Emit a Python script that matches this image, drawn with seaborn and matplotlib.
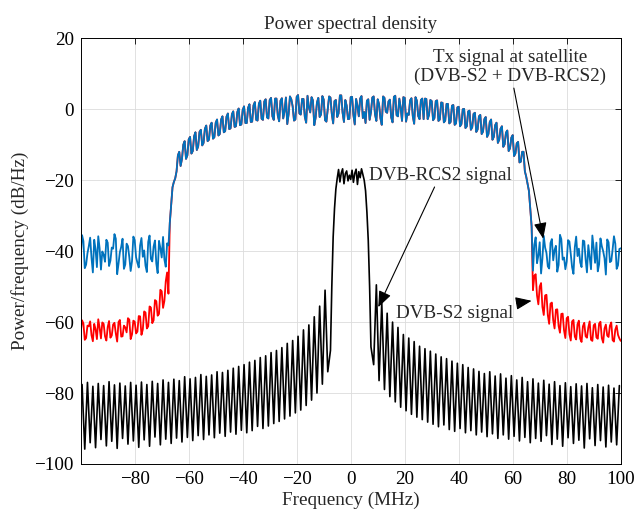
import numpy as np
import pandas as pd
import matplotlib
matplotlib.use("Agg")
import matplotlib.pyplot as plt
import seaborn as sns

# ---------------- data ----------------
freq_mhz = np.arange(-100, 101)          # whole-MHz bins
freq_half_mhz = np.arange(-99.5, 100.0)  # half-MHz bins

# Tx signal at satellite (blue), whole-MHz bins:
# floor left (-100..-68), band (-67..67), floor right (68..100)
tx_floor_left = [
    -41.5, -37.2, -43.8, -38.6, -41.9, -36.8, -44.5, -39.2, -40.1, -43.0, -37.6,
    -42.7, -39.3, -36.5, -43.6, -38.8, -45.0, -37.9, -41.7, -42.8, -36.9, -43.3,
    -38.4, -41.6, -44.1, -37.4, -42.2, -38.7, -43.5, -37.1, -41.8, -42.4, -37.8]
tx_band = [
    -32.0, -22.0, -19.5, -13.0, -16.0, -10.0, -14.0, -8.5, -12.5, -7.6,
    -11.5, -6.4, -10.2, -5.5, -9.0, -4.6, -8.3, -3.8, -7.4, -2.9,
    -6.5, -2.1, -5.6, -1.4, -5.0, -0.8, -4.5, -0.2, -3.9, 0.4,
    -3.6, 1.1, -3.0, 1.6, -2.7, 2.2, -2.3, 2.6, -2.0, 3.0,
    -1.8, 2.4, -2.6, 3.3, -1.4, 2.8, -3.2, 3.5, -1.2, 2.9,
    -2.1, 3.8, -0.9, 2.5, -2.4, 3.2, -1.5, 2.7, -3.5, 3.6,
    -1.3, 2.3, -2.2, 3.9, -1.0, 2.6, -2.8, 3.4, -1.6, 2.9,
    -2.0, 3.7, -0.8, 2.4, -3.0, 3.3, -1.4, 2.8, -2.5, 3.6,
    -0.7, 2.2, -2.3, 3.5, -1.7, 3.0, -3.3, 3.2, -1.2, 2.5,
    -2.0, 3.4, -1.9, 2.6, -2.8, 2.9, -1.6, 2.3, -2.5, 2.5,
    -2.9, 1.8, -3.2, 1.5, -3.6, 1.2, -4.0, 0.7, -4.2, 0.1,
    -4.8, -0.4, -5.1, -1.0, -5.7, -1.6, -6.3, -2.2, -7.0, -2.9,
    -7.8, -3.8, -8.6, -4.8, -9.9, -6.0, -11.0, -7.3, -12.5, -9.2,
    -14.8, -12.0, -19.0, -23.0, -33.0]
tx_floor_right = [
    -38.2, -43.4, -37.5, -42.1, -39.0, -44.3, -37.7, -42.6, -38.5, -43.9, -36.6,
    -41.8, -42.9, -37.3, -44.6, -38.9, -41.4, -43.2, -37.0, -42.3, -38.3, -45.1,
    -39.1, -37.6, -43.7, -38.6, -42.0, -36.7, -43.1, -39.5, -37.9, -44.0, -39.2]

# Tx signal, half-MHz bins: left (-99.5..-67.5), band (-66.5..66.5), right (67.5..99.5)
tx_half_left = [
    -35.5, -44.8, -40.6, -36.2, -46.0, -39.5, -35.8, -45.2, -41.0, -36.8, -44.2,
    -39.0, -35.2, -46.5, -40.3, -36.5, -43.8, -38.6, -45.6, -35.9, -41.7, -44.6,
    -36.3, -39.8, -45.9, -35.6, -42.9, -37.0, -46.2, -39.1, -36.0, -44.4, -38.4]
tx_half_band = [
    -27.0, -20.5, -17.5, -12.0, -14.0, -9.0, -13.0, -7.8, -11.8, -6.5,
    -10.5, -5.8, -9.5, -4.6, -8.6, -3.8, -7.9, -2.9, -7.0, -2.0,
    -6.2, -1.2, -5.4, -0.6, -4.8, 0.2, -4.3, 0.8, -3.9, 1.4,
    -3.5, 2.0, -3.2, 2.4, -3.0, 2.8, -2.6, 3.2, -3.0, 3.0,
    -3.4, 3.1, -0.5, -4.2, 3.6, 0.8, -2.9, 4.0, -1.5,
    2.9, -3.8, 0.6, 3.4, -4.5, 1.9, -2.2, 3.7, -3.1,
    0.2, 3.3, -4.0, 2.6, -1.2, 3.9, -3.6, 1.0, -2.7,
    3.5, -4.3, 0.9, 3.0, -2.5, -3.9, 2.8, -0.8, 3.6,
    -3.3, 1.4, -4.4, 3.2, -1.0, 2.7, -3.7, 3.8, -2.0,
    0.5, 3.4, -3.5, -1.6, 3.1, -4.1, 2.4, -2.8, 3.0,
    3.0, -2.8, 2.6, -3.1, 2.3, -3.3, 1.9, -3.7, 1.5, -4.0,
    1.0, -4.4, 0.5, -4.8, 0.0, -5.3, -0.6, -5.8, -1.3, -6.4,
    -2.0, -7.0, -2.8, -7.8, -3.6, -8.6, -4.5, -9.5, -5.5, -10.6,
    -6.6, -11.8, -8.0, -13.2, -9.6, -15.0, -12.0, -17.5, -21.0, -28.0]
tx_half_right = [
    -45.5, -36.1, -41.2, -46.3, -35.7, -40.5, -44.9, -36.6, -39.7, -45.8, -35.4,
    -42.4, -45.1, -36.9, -40.8, -46.4, -35.9, -39.3, -44.5, -37.2, -46.0, -41.6,
    -35.6, -43.3, -45.7, -36.4, -40.0, -46.6, -37.5, -42.8, -35.8, -45.0, -39.4]

# DVB-S2 signal (red): edges differ, centre coincides with Tx band
s2_floor_left = [
    -62.8, -60.4, -64.5, -61.2, -63.7, -60.5, -64.8, -61.6, -60.1, -64.0, -61.4,
    -64.4, -60.7, -63.2, -60.0, -64.1, -61.0, -62.9, -59.3, -63.5, -59.9, -62.7,
    -58.4, -62.1, -57.3, -61.2, -55.9, -59.5, -54.1, -57.7, -51.3, -54.0, -46.0]
s2_floor_right = [
    -47.0, -52.5, -50.0, -55.7, -52.5, -58.0, -54.8, -59.5, -56.5, -61.1, -57.7,
    -62.3, -58.9, -63.4, -59.8, -64.1, -60.6, -64.7, -61.2, -64.0, -61.5, -65.0,
    -60.9, -64.3, -60.4, -64.5, -61.8, -63.8, -61.0, -65.1, -62.1, -63.6, -65.3]
s2_half_left = [
    -59.5, -65.0, -61.0, -59.8, -65.4, -62.0, -59.2, -64.6, -60.5, -65.2, -59.7,
    -63.8, -60.2, -65.5, -59.4, -64.0, -61.5, -58.9, -64.8, -59.6, -63.2, -58.3,
    -63.6, -57.0, -61.8, -55.6, -60.3, -53.8, -58.2, -50.9, -56.0, -48.5, -52.0]
s2_half_right = [
    -51.0, -46.5, -55.0, -49.0, -58.0, -52.3, -60.5, -54.5, -61.8, -56.4, -63.0,
    -57.6, -64.5, -58.5, -65.2, -59.4, -64.9, -59.6, -65.6, -60.2, -64.4, -59.8,
    -65.3, -60.5, -64.7, -59.9, -65.8, -60.7, -64.2, -60.1, -65.5, -61.0, -64.6]

# DVB-RCS2 signal (black): main lobe (-7.5..7.5 MHz, 0.5 MHz step)
rcs2_main_freq = np.arange(-7.5, 7.51, 0.5)
rcs2_main_db = [
    -68.0, -50.0, -36.0, -28.0, -22.5, -19.5, -17.0, -20.5, -18.0, -16.8, -21.0,
    -18.2, -17.4, -20.2, -18.6, -19.8, -17.2, -20.6, -18.1, -16.9, -21.2,
    -17.6, -19.3, -16.8, -18.4, -20.0, -23.0, -29.0, -37.0, -50.0, -67.0]
# side lobes: nulls at +-8.5, 10.5, ... 98.5 MHz ; peaks at +-9.5, 11.5, ... 99.5 MHz
rcs2_null_offset = np.arange(8.5, 99.0, 2.0)
rcs2_right_peak = [
    -49.5, -54.5, -57.5, -60.0, -61.5, -63.5, -64.5, -65.5, -66.8, -67.5,
    -68.2, -69.0, -69.8, -70.3, -71.0, -71.6, -72.0, -72.8, -73.2, -73.9,
    -74.5, -74.0, -75.2, -74.6, -75.8, -75.1, -76.3, -75.6, -76.8, -76.0,
    -77.2, -76.4, -77.5, -76.8, -77.9, -77.1, -78.2, -77.4, -78.0, -77.3,
    -78.5, -77.6, -78.3, -77.8, -78.6, -77.9]
rcs2_right_null = [
    -72.0, -76.5, -79.0, -81.0, -82.5, -84.0, -85.0, -86.0, -86.8, -87.5,
    -88.2, -88.8, -89.5, -89.0, -90.3, -90.8, -90.0, -91.2, -90.6, -91.8,
    -91.0, -92.3, -91.5, -92.8, -91.8, -93.0, -92.2, -93.5, -92.5, -94.0,
    -92.8, -93.6, -92.0, -94.5, -93.0, -95.0, -92.6, -94.2, -93.3, -95.5,
    -92.9, -94.8, -93.4, -95.2, -93.8, -94.6]
rcs2_left_peak = [
    -51.0, -55.5, -58.5, -60.8, -62.2, -64.0, -65.2, -66.0, -67.2, -68.0,
    -68.6, -69.5, -70.0, -70.8, -71.3, -72.0, -72.5, -73.0, -73.6, -74.2,
    -74.0, -74.9, -75.3, -74.8, -75.6, -76.0, -75.4, -76.5, -76.1, -77.0,
    -76.3, -77.3, -76.7, -77.6, -76.9, -77.8, -77.0, -78.0, -77.2, -77.7,
    -76.8, -77.9, -77.3, -78.1, -77.0, -77.6]
rcs2_left_null = [
    -74.0, -77.5, -80.0, -82.0, -83.5, -84.8, -85.6, -86.5, -87.3, -88.0,
    -88.6, -89.3, -90.0, -89.4, -90.6, -91.2, -90.5, -91.6, -91.0, -92.2,
    -91.3, -92.6, -91.8, -93.1, -92.0, -93.4, -92.5, -93.8, -92.7, -94.2,
    -93.0, -94.6, -92.4, -95.0, -93.2, -95.3, -93.5, -94.4, -92.8, -95.6,
    -93.6, -94.9, -93.1, -95.4, -94.0, -95.8]

x_ticks = [-80, -60, -40, -20, 0, 20, 40, 60, 80, 100]
y_ticks = [-100, -80, -60, -40, -20, 0, 20]

# ---------------- build tables ----------------
f_all = list(freq_mhz) + list(freq_half_mhz)
tx_db = (tx_floor_left + tx_band + tx_floor_right
         + tx_half_left + tx_half_band + tx_half_right)
s2_db = (s2_floor_left + tx_band + s2_floor_right
         + s2_half_left + tx_half_band + s2_half_right)
df_tx = pd.DataFrame({"f": f_all, "db": tx_db}).sort_values("f")
df_s2 = pd.DataFrame({"f": f_all, "db": s2_db}).sort_values("f")

left_f, left_v = [], []
for k in range(len(rcs2_null_offset) - 1, -1, -1):
    left_f += [-(rcs2_null_offset[k] + 1.0), -rcs2_null_offset[k]]
    left_v += [rcs2_left_peak[k], rcs2_left_null[k]]
right_f, right_v = [], []
for k in range(len(rcs2_null_offset)):
    right_f += [rcs2_null_offset[k], rcs2_null_offset[k] + 1.0]
    right_v += [rcs2_right_null[k], rcs2_right_peak[k]]
df_rcs2 = pd.DataFrame({"f": left_f + list(rcs2_main_freq) + right_f,
                        "db": left_v + list(rcs2_main_db) + right_v})

# ---------------- style ----------------
sns.set_theme(style="white")
plt.rcParams["font.family"] = ["Liberation Serif", "DejaVu Serif"]
FS = 13.8

fig = plt.figure(figsize=(6.35, 5.2), dpi=100)
ax = fig.add_axes([0.1271, 0.1077, 0.8504, 0.8187])

sns.lineplot(data=df_s2, x="f", y="db", ax=ax, color="#FF0000", lw=1.3,
             estimator=None, sort=False)
sns.lineplot(data=df_tx, x="f", y="db", ax=ax, color="#0072BD", lw=1.3,
             estimator=None, sort=False)
sns.lineplot(data=df_rcs2, x="f", y="db", ax=ax, color="black", lw=1.2,
             estimator=None, sort=False)

ax.set_xlim(-100, 100)
ax.set_ylim(-100, 20)
ax.set_xticks(x_ticks)
ax.set_yticks(y_ticks)
ax.grid(True, color="#dcdcdc", lw=0.6)
ax.set_axisbelow(True)
for s in ax.spines.values():
    s.set_color("black")
    s.set_linewidth(0.7)
ax.tick_params(direction="in", length=4, width=0.6, top=True, right=True,
               labelsize=FS, pad=5, colors="black")

ax.set_title("Power spectral density", fontsize=FS, pad=7)
ax.set_xlabel("Frequency (MHz)", fontsize=FS, labelpad=3)
ax.set_ylabel("Power/frequency (dB/Hz)", fontsize=FS, labelpad=4)

arrow = dict(arrowstyle="-|>,head_length=0.7,head_width=0.28", color="black",
             lw=0.8, shrinkA=0, shrinkB=0, mutation_scale=14)
ax.annotate("Tx signal at satellite\n(DVB-S2 + DVB-RCS2)", xy=(71.3, -36.5),
            xytext=(58.9, 11.9), ha="center", va="center", fontsize=FS,
            multialignment="center", arrowprops=arrow, linespacing=1.1)
ax.annotate("DVB-RCS2 signal", xy=(10.2, -55.8), xytext=(33.1, -18.6),
            ha="center", va="center", fontsize=FS, arrowprops=arrow)
ax.annotate("DVB-S2 signal", xy=(67.0, -54.0), xytext=(38.6, -57.6),
            ha="center", va="center", fontsize=FS, arrowprops=arrow)

fig.savefig("out.png", dpi=100)
